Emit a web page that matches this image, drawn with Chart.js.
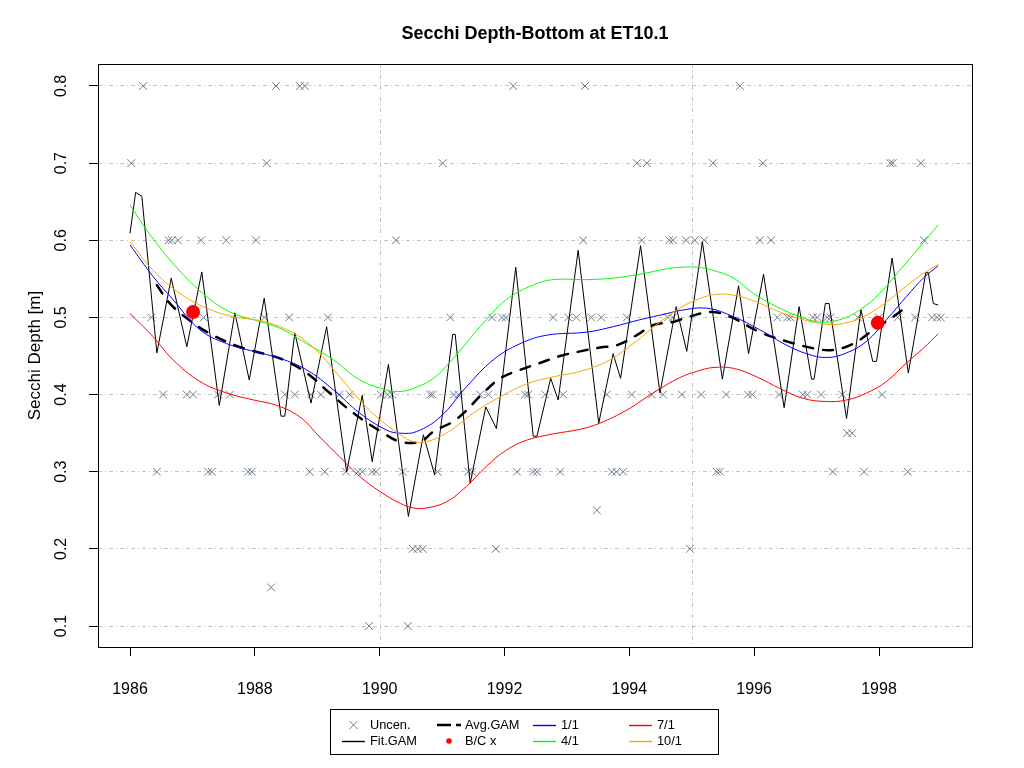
<!DOCTYPE html>
<html>
<head>
<meta charset="utf-8">
<title>Secchi Depth-Bottom at ET10.1</title>
<script src="https://cdn.jsdelivr.net/npm/chart.js@4.4.1/dist/chart.umd.min.js"></script>
<style>
  html, body { margin: 0; padding: 0; background: #fff; }
  #wrap { width: 1024px; height: 768px; }
</style>
</head>
<body>
<div id="wrap"><canvas id="chart" width="1024" height="768"></canvas></div>
<script>
// axis ticks
const xTicks = [1986, 1988, 1990, 1992, 1994, 1996, 1998]
const yTicks = [0.1, 0.2, 0.3, 0.4, 0.5, 0.6, 0.7, 0.8]
const xGridLines = [1990, 1995]

// uncensored observations, grouped by measured depth
const uncenLevels = [0.8, 0.7, 0.6, 0.5, 0.4, 0.35, 0.3, 0.25, 0.2, 0.15, 0.1]
const uncenYears = [
    [1986.21, 1988.34, 1988.72, 1988.80, 1992.14, 1993.29, 1995.77],
    [1986.02, 1988.19, 1991.01, 1994.12, 1994.28, 1995.34, 1996.14, 1998.18, 1998.22, 1998.67],
    [1986.62, 1986.67, 1986.77, 1987.14, 1987.54, 1988.02, 1990.26, 1993.26, 1994.20, 1994.64, 1994.70, 1994.91, 1995.05, 1995.20, 1996.09, 1996.27, 1998.72],
    [1986.34, 1987.18, 1988.15, 1988.55, 1989.17, 1991.13, 1991.80, 1991.96, 1992.02, 1992.78, 1993.02, 1993.15, 1993.39, 1993.55, 1993.96, 1994.62, 1994.70, 1996.37, 1996.53, 1996.58, 1996.94, 1997.01, 1997.17, 1997.22, 1997.66, 1998.00, 1998.30, 1998.58, 1998.85, 1998.93, 1998.99],
    [1986.53, 1986.91, 1987.01, 1987.41, 1987.60, 1988.48, 1988.64, 1988.90, 1989.06, 1989.35, 1989.52, 1990.02, 1990.13, 1990.20, 1990.81, 1990.85, 1991.19, 1991.26, 1991.61, 1991.74, 1992.33, 1992.38, 1992.65, 1992.94, 1993.64, 1994.04, 1994.36, 1994.54, 1994.84, 1995.15, 1995.55, 1995.90, 1995.97, 1996.40, 1996.78, 1996.85, 1997.07, 1997.41, 1998.05],
    [1997.49, 1997.57],
    [1986.43, 1987.25, 1987.31, 1987.89, 1987.95, 1988.88, 1989.12, 1989.46, 1989.65, 1989.72, 1989.88, 1989.94, 1990.37, 1990.93, 1991.42, 1991.48, 1992.20, 1992.46, 1992.52, 1992.89, 1993.72, 1993.79, 1993.90, 1995.40, 1995.45, 1997.26, 1997.76, 1998.46],
    [1993.48],
    [1990.53, 1990.61, 1990.69, 1991.86, 1994.97],
    [1988.26],
    [1989.83, 1990.45]
]

// fitted GAM (seasonal)
const fitYears = [1986.00, 1986.09, 1986.19, 1986.43, 1986.66, 1986.91, 1987.15, 1987.43, 1987.68, 1987.91, 1988.15, 1988.42, 1988.48, 1988.64, 1988.90, 1989.15, 1989.47, 1989.72, 1989.88, 1990.14, 1990.46, 1990.70, 1990.88, 1991.17, 1991.21, 1991.45, 1991.70, 1991.87, 1992.18, 1992.46, 1992.52, 1992.74, 1992.86, 1993.18, 1993.51, 1993.74, 1993.86, 1994.18, 1994.49, 1994.75, 1994.92, 1995.17, 1995.49, 1995.75, 1995.91, 1996.15, 1996.48, 1996.72, 1996.92, 1996.96, 1997.14, 1997.20, 1997.48, 1997.71, 1997.90, 1997.96, 1998.21, 1998.47, 1998.75, 1998.79, 1998.87, 1998.95]
const fitDepth = [0.609, 0.662, 0.657, 0.454, 0.551, 0.462, 0.559, 0.386, 0.506, 0.419, 0.525, 0.372, 0.372, 0.480, 0.389, 0.488, 0.300, 0.399, 0.313, 0.439, 0.242, 0.348, 0.296, 0.478, 0.478, 0.285, 0.384, 0.356, 0.565, 0.346, 0.346, 0.421, 0.393, 0.587, 0.363, 0.453, 0.421, 0.593, 0.402, 0.514, 0.456, 0.598, 0.420, 0.541, 0.453, 0.556, 0.383, 0.514, 0.420, 0.420, 0.518, 0.518, 0.369, 0.510, 0.443, 0.443, 0.577, 0.428, 0.558, 0.558, 0.518, 0.516]

// averaged GAM
const avgYears = [1986.43, 1986.64, 1986.99, 1987.28, 1987.71, 1988.14, 1988.46, 1988.83, 1989.20, 1989.58, 1990.06, 1990.33, 1990.65, 1990.86, 1991.23, 1991.66, 1991.93, 1992.25, 1992.57, 1992.89, 1993.21, 1993.53, 1993.80, 1994.12, 1994.38, 1994.70, 1994.81, 1995.29, 1995.61, 1996.09, 1996.52, 1996.95, 1997.27, 1997.59, 1997.91, 1998.23, 1998.47]
const avgDepth = [0.542, 0.518, 0.494, 0.479, 0.463, 0.453, 0.445, 0.428, 0.402, 0.376, 0.350, 0.339, 0.339, 0.352, 0.368, 0.402, 0.421, 0.432, 0.441, 0.450, 0.456, 0.461, 0.464, 0.477, 0.490, 0.494, 0.497, 0.507, 0.501, 0.481, 0.469, 0.460, 0.458, 0.466, 0.484, 0.501, 0.516]

// day-of-year curves
const jan1Years = [1986.00, 1986.37, 1986.69, 1987.12, 1987.55, 1987.98, 1988.40, 1988.83, 1989.26, 1989.68, 1990.11, 1990.33, 1990.59, 1990.97, 1991.39, 1991.82, 1992.25, 1992.68, 1993.32, 1993.74, 1994.17, 1994.60, 1994.81, 1995.24, 1995.67, 1996.09, 1996.52, 1996.84, 1997.16, 1997.48, 1997.80, 1998.12, 1998.44, 1998.71, 1998.95]
const jan1Depth = [0.594, 0.553, 0.523, 0.484, 0.466, 0.456, 0.447, 0.432, 0.406, 0.376, 0.354, 0.350, 0.352, 0.371, 0.410, 0.445, 0.466, 0.477, 0.481, 0.488, 0.497, 0.505, 0.509, 0.512, 0.501, 0.484, 0.464, 0.453, 0.448, 0.454, 0.469, 0.497, 0.527, 0.551, 0.567]

const apr1Years = [1986.00, 1986.27, 1986.69, 1987.17, 1987.60, 1987.98, 1988.40, 1988.83, 1989.26, 1989.68, 1990.11, 1990.33, 1990.54, 1990.86, 1991.18, 1991.61, 1992.03, 1992.46, 1992.78, 1993.32, 1993.74, 1994.17, 1994.60, 1994.81, 1995.08, 1995.34, 1995.67, 1995.99, 1996.36, 1996.73, 1997.05, 1997.37, 1997.70, 1998.01, 1998.33, 1998.66, 1998.95]
const apr1Depth = [0.646, 0.613, 0.570, 0.531, 0.507, 0.497, 0.486, 0.466, 0.445, 0.419, 0.406, 0.404, 0.408, 0.421, 0.447, 0.488, 0.523, 0.542, 0.549, 0.549, 0.551, 0.556, 0.563, 0.565, 0.565, 0.561, 0.551, 0.531, 0.514, 0.501, 0.494, 0.497, 0.510, 0.531, 0.561, 0.592, 0.620]

const jul1Years = [1986.00, 1986.37, 1986.69, 1987.12, 1987.55, 1987.98, 1988.35, 1988.72, 1989.04, 1989.36, 1989.68, 1990.01, 1990.33, 1990.54, 1990.75, 1991.07, 1991.39, 1991.71, 1992.03, 1992.36, 1992.78, 1993.21, 1993.53, 1993.96, 1994.38, 1994.81, 1995.08, 1995.34, 1995.67, 1996.04, 1996.41, 1996.79, 1997.16, 1997.48, 1997.80, 1998.12, 1998.44, 1998.71, 1998.95]
const jul1Depth = [0.505, 0.475, 0.445, 0.417, 0.402, 0.393, 0.386, 0.371, 0.345, 0.319, 0.294, 0.274, 0.259, 0.253, 0.253, 0.261, 0.281, 0.307, 0.328, 0.341, 0.349, 0.355, 0.363, 0.380, 0.402, 0.422, 0.430, 0.435, 0.434, 0.423, 0.408, 0.395, 0.391, 0.393, 0.402, 0.417, 0.441, 0.460, 0.479]

const oct1Years = [1986.00, 1986.37, 1986.80, 1987.23, 1987.65, 1988.08, 1988.40, 1988.72, 1989.04, 1989.36, 1989.68, 1990.01, 1990.33, 1990.54, 1990.75, 1991.07, 1991.50, 1991.93, 1992.36, 1992.78, 1993.21, 1993.64, 1994.06, 1994.49, 1994.81, 1995.08, 1995.40, 1995.72, 1996.04, 1996.41, 1996.79, 1997.16, 1997.48, 1997.80, 1998.12, 1998.44, 1998.71, 1998.95]
const oct1Depth = [0.598, 0.561, 0.531, 0.512, 0.501, 0.496, 0.488, 0.475, 0.453, 0.423, 0.393, 0.367, 0.348, 0.339, 0.339, 0.350, 0.376, 0.397, 0.414, 0.423, 0.430, 0.443, 0.466, 0.494, 0.512, 0.523, 0.530, 0.528, 0.520, 0.507, 0.497, 0.491, 0.493, 0.503, 0.520, 0.541, 0.557, 0.569]

// baseline / current markers
const bcYears = [1987.01, 1997.98]
const bcDepth = [0.507, 0.493]


const pts = (xs, ys) => xs.map((x, i) => ({ x: x, y: ys[i] }))

let uncenPts = []
uncenLevels.forEach((lvl, i) => {
    uncenYears[i].forEach(yr => uncenPts.push({ x: yr, y: lvl }))
})

const gridColor = '#c4c4c4'
const gridDash = [4, 3, 1, 3]
const uncenColor = '#6c7b8b'

Chart.defaults.font.family = '"Liberation Sans", Arial, sans-serif'
Chart.defaults.color = '#000'

const lineSet = (label, data, color, order) => ({
    label: label,
    data: data,
    showLine: true,
    borderColor: color,
    borderWidth: 1,
    pointRadius: 0,
    tension: 0.4,
    fill: false,
    order: order
})

// vertical grid lines + box around the plot
const frame = {
    id: 'frame',
    beforeDatasetsDraw(chart) {
        const { ctx, chartArea, scales } = chart
        ctx.save()
        ctx.strokeStyle = gridColor
        ctx.lineWidth = 1
        ctx.setLineDash(gridDash)
        xGridLines.forEach(v => {
            const px = Math.round(scales.x.getPixelForValue(v)) + 0.5
            ctx.beginPath()
            ctx.moveTo(px, chartArea.top)
            ctx.lineTo(px, chartArea.bottom)
            ctx.stroke()
        })
        ctx.restore()
    },
    afterDraw(chart) {
        const { ctx, chartArea } = chart
        ctx.save()
        ctx.strokeStyle = '#000'
        ctx.lineWidth = 1
        ctx.strokeRect(chartArea.left + 0.5, chartArea.top + 0.5,
            chartArea.right - chartArea.left, chartArea.bottom - chartArea.top)
        ctx.restore()
    }
}

// R style legend box under the plot
const legendRows = [
    [{ kind: 'cross', label: 'Uncen.' }, { kind: 'dash', label: 'Avg.GAM' }, { kind: 'line', color: '#0000ff', label: '1/1' }, { kind: 'line', color: '#ff0000', label: '7/1' }],
    [{ kind: 'line', color: '#000000', label: 'Fit.GAM' }, { kind: 'dot', label: 'B/C x' }, { kind: 'line', color: '#00ff00', label: '4/1' }, { kind: 'line', color: '#ffa500', label: '10/1' }]
]
const rLegend = {
    id: 'rLegend',
    afterDraw(chart) {
        const ctx = chart.ctx
        const colX = [342, 437, 533, 629]
        const rowY = [725, 741]
        ctx.save()
        ctx.strokeStyle = '#000'
        ctx.lineWidth = 1
        ctx.strokeRect(330.5, 709.5, 388, 45)
        ctx.font = '12.8px "Liberation Sans", Arial, sans-serif'
        ctx.textBaseline = 'middle'
        ctx.textAlign = 'left'
        legendRows.forEach((row, r) => {
            row.forEach((item, c) => {
                const x0 = colX[c], y = rowY[r]
                ctx.save()
                if (item.kind === 'line') {
                    ctx.strokeStyle = item.color
                    ctx.lineWidth = 1.4
                    ctx.beginPath(); ctx.moveTo(x0, y + 0.5); ctx.lineTo(x0 + 23, y + 0.5); ctx.stroke()
                } else if (item.kind === 'dash') {
                    ctx.strokeStyle = '#000'
                    ctx.lineWidth = 2.5
                    ctx.setLineDash([14, 5])
                    ctx.beginPath(); ctx.moveTo(x0, y); ctx.lineTo(x0 + 24, y); ctx.stroke()
                } else if (item.kind === 'cross') {
                    ctx.strokeStyle = uncenColor
                    const cx = x0 + 11.5
                    ctx.beginPath()
                    ctx.moveTo(cx - 4, y - 4); ctx.lineTo(cx + 4, y + 4)
                    ctx.moveTo(cx - 4, y + 4); ctx.lineTo(cx + 4, y - 4)
                    ctx.stroke()
                } else if (item.kind === 'dot') {
                    ctx.fillStyle = '#ff0000'
                    ctx.beginPath(); ctx.arc(x0 + 12, y, 2.8, 0, Math.PI * 2); ctx.fill()
                }
                ctx.restore()
                ctx.fillStyle = '#000'
                ctx.fillText(item.label, x0 + 28, y)
            })
        })
        ctx.restore()
    }
}

new Chart(document.getElementById('chart'), {
    type: 'scatter',
    data: {
        datasets: [
            {
                label: 'Uncen.',
                data: uncenPts,
                pointStyle: 'crossRot',
                pointRadius: 5.5,
                borderColor: uncenColor,
                borderWidth: 1,
                showLine: false,
                order: 7
            },
            Object.assign(lineSet('Fit.GAM', pts(fitYears, fitDepth), '#000000', 6), { tension: 0 }),
            Object.assign(lineSet('Avg.GAM', pts(avgYears, avgDepth), '#000000', 5), {
                borderWidth: 2.5, borderDash: [10, 10], borderCapStyle: 'round'
            }),
            lineSet('1/1', pts(jan1Years, jan1Depth), '#0000ff', 4),
            lineSet('4/1', pts(apr1Years, apr1Depth), '#00ff00', 3),
            lineSet('7/1', pts(jul1Years, jul1Depth), '#ff0000', 2),
            lineSet('10/1', pts(oct1Years, oct1Depth), '#ffa500', 1),
            {
                label: 'B/C x',
                data: pts(bcYears, bcDepth),
                pointStyle: 'circle',
                pointRadius: 7,
                backgroundColor: '#ff0000',
                borderColor: '#ff0000',
                borderWidth: 0,
                showLine: false,
                order: 0
            }
        ]
    },
    options: {
        responsive: false,
        animation: false,
        devicePixelRatio: 1,
        layout: { padding: { left: 0, right: 52, top: 0, bottom: 0 } },
        plugins: {
            legend: { display: false },
            tooltip: { enabled: false },
            title: {
                display: true,
                text: 'Secchi Depth-Bottom at ET10.1',
                fullSize: false,
                color: '#000',
                font: { size: 18, weight: 'bold' },
                padding: { top: 23, bottom: 19.4 }
            }
        },
        scales: {
            x: {
                type: 'linear',
                min: 1985.487,
                max: 1999.49,
                afterBuildTicks: s => { s.ticks = xTicks.map(v => ({ value: v })) },
                afterFit: s => { s.height = 121 },
                ticks: {
                    autoSkip: false,
                    minRotation: 0,
                    maxRotation: 0,
                    padding: 24,
                    font: { size: 16 },
                    color: '#000',
                    callback: v => String(v)
                },
                grid: { drawOnChartArea: false, drawTicks: true, tickLength: 9, tickColor: '#000', tickWidth: 1 },
                border: { display: false }
            },
            y: {
                type: 'linear',
                min: 0.0728,
                max: 0.8285,
                afterBuildTicks: s => { s.ticks = yTicks.map(v => ({ value: v })) },
                afterFit: s => { s.width = 98 },
                ticks: {
                    autoSkip: false,
                    minRotation: 90,
                    maxRotation: 90,
                    crossAlign: 'center',
                    padding: 16,
                    font: { size: 16 },
                    color: '#000',
                    callback: v => v.toFixed(1)
                },
                grid: {
                    color: gridColor,
                    lineWidth: 1,
                    drawOnChartArea: true,
                    drawTicks: true,
                    tickLength: 9,
                    tickColor: '#000',
                    tickWidth: 1,
                    tickBorderDash: []
                },
                border: { display: false, dash: gridDash },
                title: {
                    display: true,
                    text: 'Secchi Depth [m]',
                    color: '#000',
                    font: { size: 17 },
                    padding: { top: 25, bottom: 0 }
                }
            }
        }
    },
    plugins: [frame, rLegend]
})
</script>
</body>
</html>
